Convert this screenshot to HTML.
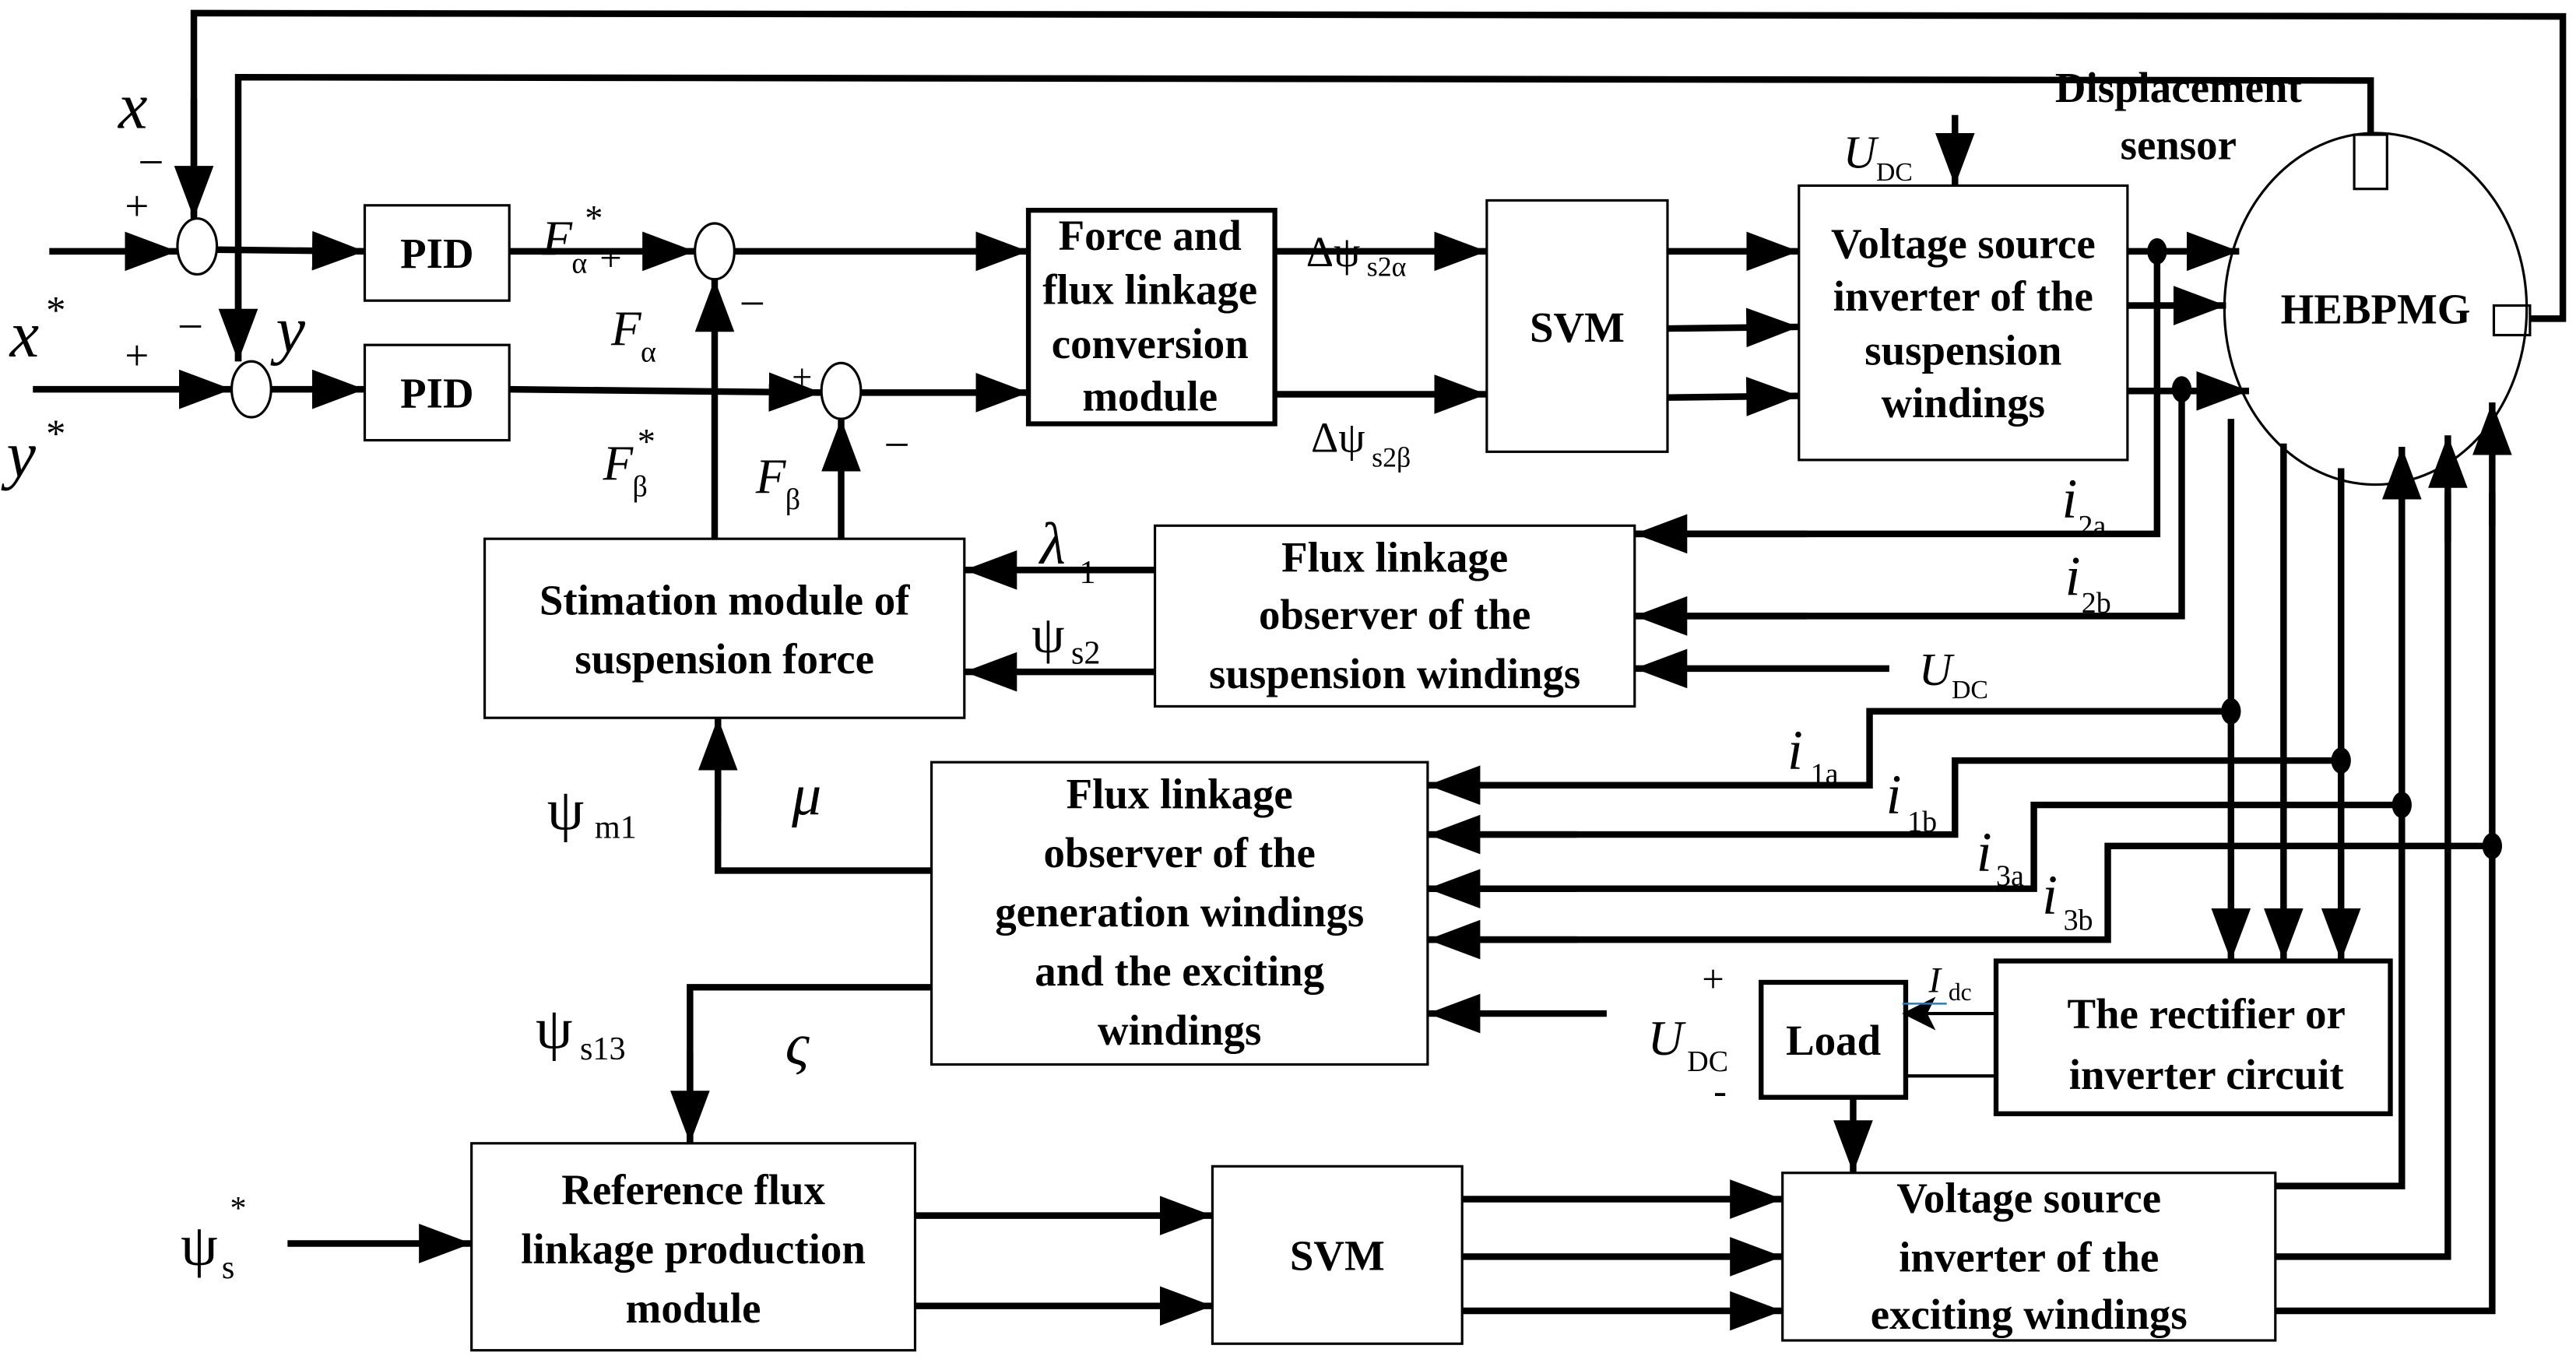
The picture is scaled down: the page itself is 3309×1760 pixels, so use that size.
<!DOCTYPE html>
<html><head><meta charset="utf-8"><style>
html,body{margin:0;padding:0;background:#fff;}
svg{display:block;}
text{font-family:"Liberation Serif",serif;}
.b{font-weight:bold;font-size:26px;text-anchor:middle;}
.i{font-style:italic;}
</style></head><body>
<svg width="3309" height="1760" viewBox="0 0 1568 834" xmlns="http://www.w3.org/2000/svg">
<defs>
<marker id="a" markerUnits="userSpaceOnUse" markerWidth="34" markerHeight="26" refX="32" refY="12" orient="auto">
<path d="M0,0 L32,12 L0,24 Z" fill="#000"/>
</marker>
</defs>
<g fill="none" stroke="#000" stroke-width="1.5">
<rect x="222" y="125" width="88" height="58"/>
<rect x="222" y="210" width="88" height="58"/>
<rect x="626" y="128" width="150" height="130" stroke-width="3"/>
<rect x="905" y="122" width="110" height="153"/>
<rect x="1095" y="113" width="200" height="167"/>
<ellipse cx="1446" cy="188" rx="92" ry="107"/>
<rect x="1433" y="82" width="20" height="33"/>
<rect x="1518" y="186" width="22" height="18"/>
<rect x="295" y="328" width="292" height="109"/>
<rect x="703" y="320" width="292" height="110"/>
<rect x="567" y="464" width="302" height="184"/>
<rect x="1072" y="598" width="88" height="70" stroke-width="3"/>
<rect x="1215" y="585" width="240" height="93" stroke-width="3"/>
<rect x="287" y="696" width="270" height="126"/>
<rect x="738" y="710" width="152" height="108"/>
<rect x="1085" y="714" width="300" height="102"/>
<ellipse cx="120" cy="150" rx="12" ry="17"/>
<ellipse cx="153" cy="237" rx="12" ry="17"/>
<ellipse cx="435" cy="153" rx="12" ry="17"/>
<ellipse cx="512" cy="238" rx="12" ry="17"/>
</g>
<g fill="none" stroke="#000" stroke-width="4">
<polyline points="118,132 118,8 1560,10 1560,194 1540,194"/>
<line x1="118" y1="60" x2="118" y2="133" marker-end="url(#a)"/>
<polyline points="145,220 145,47 1443,49 1443,82"/>
<line x1="145" y1="150" x2="145" y2="220" marker-end="url(#a)"/>
<line x1="30" y1="153" x2="108" y2="153" marker-end="url(#a)"/>
<line x1="20" y1="237" x2="141" y2="237" marker-end="url(#a)"/>
<line x1="132" y1="152" x2="222" y2="153" marker-end="url(#a)"/>
<line x1="165" y1="237" x2="222" y2="237" marker-end="url(#a)"/>
<line x1="310" y1="153" x2="423" y2="153" marker-end="url(#a)"/>
<line x1="310" y1="237" x2="500" y2="239" marker-end="url(#a)"/>
<line x1="447" y1="153" x2="626" y2="153" marker-end="url(#a)"/>
<line x1="524" y1="239" x2="626" y2="239" marker-end="url(#a)"/>
<line x1="435" y1="328" x2="435" y2="170" marker-end="url(#a)"/>
<line x1="512" y1="328" x2="512" y2="255" marker-end="url(#a)"/>
<line x1="776" y1="153" x2="905" y2="153" marker-end="url(#a)"/>
<line x1="776" y1="240" x2="905" y2="240" marker-end="url(#a)"/>
<line x1="1015" y1="153" x2="1095" y2="153" marker-end="url(#a)"/>
<line x1="1015" y1="200" x2="1095" y2="199" marker-end="url(#a)"/>
<line x1="1015" y1="242" x2="1095" y2="241" marker-end="url(#a)"/>
<line x1="1190" y1="70" x2="1190" y2="113" marker-end="url(#a)"/>
<line x1="1295" y1="153" x2="1363" y2="153" marker-end="url(#a)"/>
<line x1="1295" y1="186" x2="1355" y2="186" marker-end="url(#a)"/>
<line x1="1295" y1="238" x2="1369" y2="238" marker-end="url(#a)"/>
<polyline points="1313,153 1313,325 995,325"/>
<line x1="1100" y1="325" x2="995" y2="325" marker-end="url(#a)"/>
<polyline points="1328,237 1328,375 995,375"/>
<line x1="1100" y1="375" x2="995" y2="375" marker-end="url(#a)"/>
<line x1="1150" y1="407" x2="995" y2="407" marker-end="url(#a)"/>
<line x1="703" y1="347" x2="587" y2="347" marker-end="url(#a)"/>
<line x1="703" y1="409" x2="587" y2="409" marker-end="url(#a)"/>
<line x1="1358" y1="255" x2="1358" y2="585" marker-end="url(#a)"/>
<line x1="1390" y1="270" x2="1390" y2="585" marker-end="url(#a)"/>
<line x1="1425" y1="285" x2="1425" y2="585" marker-end="url(#a)"/>
<polyline points="1385,722 1462,722 1462,300"/>
<line x1="1462" y1="340" x2="1462" y2="272" marker-end="url(#a)"/>
<polyline points="1385,765 1490,765 1490,300"/>
<line x1="1490" y1="330" x2="1490" y2="265" marker-end="url(#a)"/>
<polyline points="1385,798 1517,798 1517,300"/>
<line x1="1517" y1="320" x2="1517" y2="245" marker-end="url(#a)"/>
<polyline points="1358,433 1138,433 1138,478 869,478"/>
<line x1="960" y1="478" x2="869" y2="478" marker-end="url(#a)"/>
<polyline points="1425,463 1190,463 1190,508 869,508"/>
<line x1="960" y1="508" x2="869" y2="508" marker-end="url(#a)"/>
<polyline points="1462,490 1238,490 1238,541 869,541"/>
<line x1="960" y1="541" x2="869" y2="541" marker-end="url(#a)"/>
<polyline points="1517,515 1283,515 1283,572 869,572"/>
<line x1="960" y1="572" x2="869" y2="572" marker-end="url(#a)"/>
<line x1="978" y1="617" x2="869" y2="617" marker-end="url(#a)"/>
<polyline points="567,530 437,530 437,437"/>
<line x1="437" y1="500" x2="437" y2="437" marker-end="url(#a)"/>
<polyline points="567,601 420,601 420,696"/>
<line x1="420" y1="640" x2="420" y2="696" marker-end="url(#a)"/>
<line x1="175" y1="757" x2="287" y2="757" marker-end="url(#a)"/>
<line x1="557" y1="740" x2="738" y2="740" marker-end="url(#a)"/>
<line x1="557" y1="795" x2="738" y2="795" marker-end="url(#a)"/>
<line x1="890" y1="730" x2="1085" y2="730" marker-end="url(#a)"/>
<line x1="890" y1="765" x2="1085" y2="765" marker-end="url(#a)"/>
<line x1="890" y1="798" x2="1085" y2="798" marker-end="url(#a)"/>
<line x1="1128" y1="668" x2="1128" y2="714" marker-end="url(#a)"/>
</g>
<g stroke="#000" stroke-width="2" fill="none">
<line x1="1215" y1="617" x2="1160" y2="617"/>
<path d="M1160,617 L1176,609 L1172,617 L1176,625 Z" fill="#000"/>
<line x1="1160" y1="655" x2="1215" y2="655"/>
<line x1="1158" y1="611" x2="1185" y2="611" stroke="#2a7ab8" stroke-width="1.2"/>
</g>
<g fill="#000">
<ellipse cx="1313" cy="153" rx="6" ry="8"/>
<ellipse cx="1328" cy="237" rx="6" ry="8"/>
<ellipse cx="1358" cy="433" rx="6" ry="8"/>
<ellipse cx="1425" cy="463" rx="6" ry="8"/>
<ellipse cx="1462" cy="490" rx="6" ry="8"/>
<ellipse cx="1517" cy="515" rx="6" ry="8"/>
</g>
<g class="b">
<text x="266" y="163" class="b">PID</text>
<text x="266" y="248" class="b">PID</text>
<text x="700" y="152" class="b">Force and</text>
<text x="700" y="185" class="b">flux linkage</text>
<text x="700" y="218" class="b">conversion</text>
<text x="700" y="250" class="b">module</text>
<text x="960" y="208" class="b">SVM</text>
<text x="1195" y="157" class="b">Voltage source</text>
<text x="1195" y="189" class="b">inverter of the</text>
<text x="1195" y="222" class="b">suspension</text>
<text x="1195" y="254" class="b">windings</text>
<text x="1446" y="197" class="b">HEBPMG</text>
<text x="1326" y="62" class="b">Displacement</text>
<text x="1326" y="97" class="b">sensor</text>
<text x="441" y="374" class="b">Stimation module of</text>
<text x="441" y="410" class="b">suspension force</text>
<text x="849" y="348" class="b">Flux linkage</text>
<text x="849" y="383" class="b">observer of the</text>
<text x="849" y="419" class="b">suspension windings</text>
<text x="718" y="492" class="b">Flux linkage</text>
<text x="718" y="528" class="b">observer of the</text>
<text x="718" y="564" class="b">generation windings</text>
<text x="718" y="600" class="b">and the exciting</text>
<text x="718" y="636" class="b">windings</text>
<text x="1116" y="642" class="b">Load</text>
<text x="1343" y="626" class="b">The rectifier or</text>
<text x="1343" y="663" class="b">inverter circuit</text>
<text x="422" y="733" class="b">Reference flux</text>
<text x="422" y="769" class="b">linkage production</text>
<text x="422" y="805" class="b">module</text>
<text x="814" y="773" class="b">SVM</text>
<text x="1235" y="738" class="b">Voltage source</text>
<text x="1235" y="774" class="b">inverter of the</text>
<text x="1235" y="809" class="b">exciting windings</text>
</g>
<g font-size="34">
<text x="72" y="78" class="i" font-size="40">x</text>
<text x="84" y="108" font-size="28">−</text>
<text x="76" y="134" font-size="26">+</text>
<text x="6" y="217" class="i" font-size="40">x</text><text x="28" y="197" font-size="24">*</text>
<text x="76" y="225" font-size="26">+</text>
<text x="108" y="208" font-size="28">−</text>
<text x="168" y="214" class="i" font-size="40">y</text>
<text x="4" y="290" class="i" font-size="40">y</text><text x="28" y="272" font-size="24">*</text>
<text x="330" y="155" class="i" font-size="30">F</text><text x="348" y="166" font-size="18">α</text><text x="356" y="140" font-size="22">*</text>
<text x="365" y="165" font-size="24">+</text>
<text x="372" y="210" class="i" font-size="30">F</text><text x="390" y="220" font-size="18">α</text>
<text x="450" y="194" font-size="28">−</text>
<text x="367" y="292" class="i" font-size="30">F</text><text x="385" y="302" font-size="18">β</text><text x="388" y="276" font-size="22">*</text>
<text x="460" y="300" class="i" font-size="30">F</text><text x="478" y="310" font-size="18">β</text>
<text x="482" y="237" font-size="22">+</text>
<text x="538" y="280" font-size="28">−</text>
<text x="795" y="162" font-size="26">Δψ</text><text x="832" y="168" font-size="17">s2α</text>
<text x="798" y="275" font-size="26">Δψ</text><text x="835" y="284" font-size="17">s2β</text>
<text x="1122" y="102" class="i" font-size="28">U</text><text x="1142" y="110" font-size="16">DC</text>
<text x="1255" y="315" class="i" font-size="34">i</text><text x="1265" y="326" font-size="18">2a</text>
<text x="1257" y="362" class="i" font-size="34">i</text><text x="1267" y="373" font-size="18">2b</text>
<text x="1168" y="417" class="i" font-size="28">U</text><text x="1188" y="425" font-size="16">DC</text>
<text x="633" y="343" class="i" font-size="36">λ</text><text x="657" y="355" font-size="20">1</text>
<text x="628" y="397" font-size="32">ψ</text><text x="652" y="404" font-size="20">s2</text>
<text x="1088" y="468" class="i" font-size="34">i</text><text x="1102" y="477" font-size="18">1a</text>
<text x="1148" y="495" class="i" font-size="34">i</text><text x="1161" y="506" font-size="18">1b</text>
<text x="1203" y="530" class="i" font-size="34">i</text><text x="1215" y="539" font-size="18">3a</text>
<text x="1243" y="556" class="i" font-size="34">i</text><text x="1256" y="566" font-size="18">3b</text>
<text x="1174" y="604" class="i" font-size="22">I</text><text x="1186" y="609" font-size="15">dc</text>
<text x="1036" y="604" font-size="24">+</text>
<text x="1003" y="642" class="i" font-size="30">U</text><text x="1027" y="652" font-size="18">DC</text>
<text x="1043" y="672" font-size="24">-</text>
<text x="333" y="505" font-size="36">ψ</text><text x="362" y="510" font-size="20">m1</text>
<text x="482" y="496" class="i" font-size="36">μ</text>
<text x="326" y="638" font-size="36">ψ</text><text x="353" y="645" font-size="20">s13</text>
<text x="478" y="648" class="i" font-size="36">ς</text>
<text x="110" y="770" font-size="36">ψ</text><text x="135" y="778" font-size="20">s</text><text x="140" y="742" font-size="20">*</text>
</g>
</svg>
</body></html>
